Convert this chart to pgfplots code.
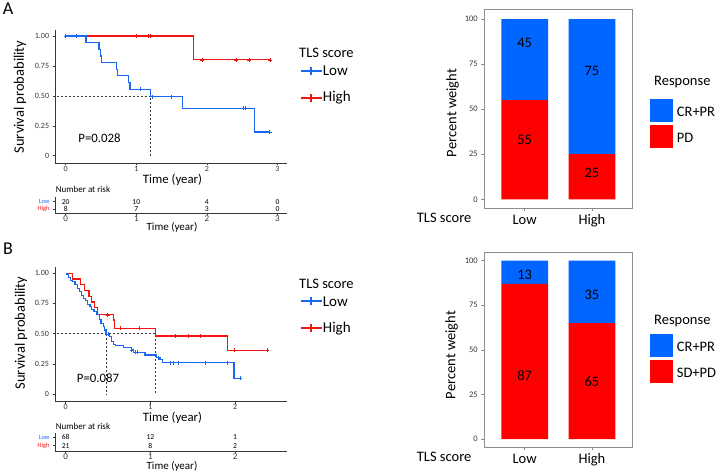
\documentclass[border=0pt]{standalone}
\usepackage{pgfplots}
\pgfplotsset{compat=1.18}
\usepackage{fontspec}
\setmainfont{Carlito}
\definecolor{kmblue}{RGB}{25,105,240}
\definecolor{kmred}{RGB}{245,20,20}
\definecolor{barblue}{RGB}{0,102,255}
\definecolor{barred}{RGB}{255,0,0}
\definecolor{axgray}{RGB}{55,55,55}
\definecolor{framegray}{RGB}{140,140,140}
\newcommand{\fs}[1]{\fontsize{#1}{#1}\selectfont}
\pgfplotsset{
  km/.style={
    scale only axis, anchor=south west,
    axis x line=bottom, axis y line=left,
    axis line style={-, axgray, line width=0.6pt},
    tick align=outside, major tick length=2.5pt,
    tick style={axgray, line width=0.5pt},
    ticklabel style={font=\fs{8}, text=axgray},
    xticklabel style={inner sep=0.6pt},
    /pgf/number format/assume math mode=true,
  },
  risk/.style={
    scale only axis, anchor=south west,
    axis x line=bottom, axis y line=left,
    axis line style={-, axgray, line width=0.6pt},
    tick align=outside, major tick length=2pt,
    tick style={axgray, line width=0.5pt},
    xticklabel style={font=\fs{9}, text=axgray, inner sep=0.5pt},
    yticklabel style={font=\fs{6.4}},
    /pgf/number format/assume math mode=true,
  },
  barax/.style={
    scale only axis, anchor=south west, ybar stacked, bar width=46.7pt,
    xmin=-0.6, xmax=1.6, xtick={0,1}, xticklabels={Low,High},
    ytick={0,25,50,75,100},
    axis line style={framegray, line width=0.8pt},
    tick align=outside, major tick length=3pt,
    tick style={framegray, line width=0.6pt},
    xtick pos=bottom, ytick pos=left,
    xticklabel style={font=\fs{14.5}},
    yticklabel style={font=\fs{8.5}, text=axgray},
    /pgf/number format/assume math mode=true,
  },
  barlab/.style={
    scale only axis, anchor=south west, hide axis,
    xmin=-0.6, xmax=1.6,
  },
  cens/.style={only marks, mark=+, mark size=2pt, mark options={line width=0.7pt}},
  med/.style={axgray, dash pattern=on 2pt off 2pt, line width=0.6pt},
  riskn/.style={draw=none, mark=none, nodes near coords, point meta=explicit symbolic,
    nodes near coords style={anchor=center, font=\fs{7.6}, text=black}},
  vlab/.style={draw=none, mark=none, nodes near coords, point meta=explicit symbolic,
    nodes near coords style={anchor=center, font=\fs{14.5}, text=black}},
}
\begin{document}
\begin{tikzpicture}[x=1pt,y=1pt]
\path[use as bounding box] (0,0) rectangle (722,472);

% ---------------- Panel A: KM ----------------
\begin{axis}[km, at={(55.1pt,309.1pt)}, width=231.6pt, height=132.9pt,
  xmin=-0.15, xmax=3.13, ymin=-0.06, ymax=1.05,
  xtick={0,1,2,3}, ytick={0,0.25,0.5,0.75,1}, yticklabels={0,0.25,0.50,0.75,1.00}]
\addplot[med] coordinates {(-0.12,0.5) (1.204,0.5) (1.204,0)};
\addplot[const plot, kmred, line width=1.1pt] coordinates {(0,1) (1.81,0.8) (2.9,0.8)};
\addplot[cens, kmred] coordinates {(0.996,1) (1.17,1) (1.20,1) (1.93,0.8) (2.41,0.8) (2.6,0.8) (2.9,0.8)};
\addplot[const plot, kmblue, line width=1.1pt] coordinates {(0,1) (0.288,0.944) (0.472,0.889) (0.495,0.833) (0.51,0.778) (0.717,0.722) (0.736,0.667) (0.887,0.611) (0.911,0.556) (1.204,0.494) (1.657,0.395) (2.68,0.198) (2.89,0.198)};
\addplot[cens, kmblue] coordinates {(0,1) (0.155,1) (1.06,0.556) (1.23,0.494) (1.5,0.494) (2.515,0.395) (2.54,0.395) (2.89,0.198)};
\end{axis}

% risk table A
\begin{axis}[risk, at={(55.1pt,258.7pt)}, width=231.6pt, height=16.2pt,
  xmin=-0.15, xmax=3.13, ymin=0.47, ymax=2.6, xtick={0,1,2,3},
  ytick={1,2}, yticklabels={\textcolor{kmred}{High},\textcolor{kmblue}{Low}}]
\addplot[riskn] coordinates {(0,2) [20] (1,2) [10] (2,2) [4] (3,2) [0] (0,1) [8] (1,1) [7] (2,1) [3] (3,1) [0]};
\end{axis}

% ---------------- Panel B: KM ----------------
\begin{axis}[km, at={(55.0pt,70.8pt)}, width=231.7pt, height=134.0pt,
  xmin=-0.126, xmax=2.61, ymin=-0.06, ymax=1.05,
  xtick={0,1,2}, ytick={0,0.25,0.5,0.75,1}, yticklabels={0,0.25,0.50,0.75,1.00}]
\addplot[med] coordinates {(-0.1,0.5) (1.063,0.5) (1.063,0)};
\addplot[med] coordinates {(0.476,0.5) (0.476,0)};
\addplot[const plot, kmred, line width=1.1pt] coordinates {(0,1) (0.082,0.952) (0.18,0.905) (0.227,0.857) (0.275,0.810) (0.306,0.762) (0.345,0.714) (0.373,0.655) (0.561,0.613) (0.58,0.544) (1.063,0.48) (1.914,0.362) (2.376,0.362)};
\addplot[cens, kmred] coordinates {(0.494,0.655) (0.64,0.544) (0.875,0.544) (1.294,0.48) (1.451,0.48) (1.592,0.48) (1.992,0.362) (2.376,0.362)};
\addplot[const plot, kmblue, line width=1.1pt] coordinates {(0,1) (0.012,0.986) (0.031,0.964) (0.059,0.942) (0.083,0.931) (0.110,0.909) (0.142,0.876) (0.161,0.848) (0.189,0.815) (0.209,0.793) (0.236,0.771) (0.260,0.743) (0.287,0.724) (0.307,0.702) (0.335,0.682) (0.366,0.655) (0.398,0.619) (0.417,0.586) (0.445,0.558) (0.460,0.530) (0.476,0.495) (0.516,0.478) (0.543,0.434) (0.563,0.412) (0.587,0.401) (0.681,0.384) (0.780,0.365) (0.799,0.345) (0.937,0.323) (1.075,0.301) (1.114,0.282) (1.146,0.260) (1.988,0.130) (2.06,0.130)};
\addplot[cens, kmblue] coordinates {(0.50,0.495) (0.78,0.365) (0.82,0.345) (0.85,0.345) (1.09,0.301) (1.235,0.26) (1.27,0.26) (1.33,0.26) (1.65,0.26) (1.91,0.26) (2.06,0.13)};
\end{axis}

% risk table B
\begin{axis}[risk, at={(55.0pt,21pt)}, width=231.7pt, height=17.9pt,
  xmin=-0.126, xmax=2.61, ymin=0.37, ymax=2.5, xtick={0,1,2},
  ytick={1,2}, yticklabels={\textcolor{kmred}{High},\textcolor{kmblue}{Low}}]
\addplot[riskn] coordinates {(0,2) [68] (1,2) [12] (2,2) [1] (0,1) [21] (1,1) [8] (2,1) [2]};
\end{axis}

% ---------------- Bars A ----------------
\begin{axis}[barax, at={(484.3pt,263.7pt)}, width=148pt, height=199pt, ymin=-5, ymax=105.4]
\addplot[fill=barred, draw=none] coordinates {(0,55) (1,25)};
\addplot[fill=barblue, draw=none] coordinates {(0,45) (1,75)};
\end{axis}
\begin{axis}[barlab, at={(484.3pt,263.7pt)}, width=148pt, height=199pt, ymin=-5, ymax=105.4]
\addplot[vlab] coordinates {(0,87) [45] (0,32.9) [55] (1,71.2) [75] (1,14.8) [25]};
\end{axis}

% ---------------- Bars B ----------------
\begin{axis}[barax, at={(484.3pt,24.7pt)}, width=148pt, height=194.6pt, ymin=-4.65, ymax=104.5]
\addplot[fill=barred, draw=none] coordinates {(0,87) (1,65)};
\addplot[fill=barblue, draw=none] coordinates {(0,13) (1,35)};
\end{axis}
\begin{axis}[barlab, at={(484.3pt,24.7pt)}, width=148pt, height=194.6pt, ymin=-4.65, ymax=104.5]
\addplot[vlab] coordinates {(0,92) [13] (0,35.5) [87] (1,80.8) [35] (1,32.1) [65]};
\end{axis}

% ---------------- Texts ----------------
\node[font=\fs{18}] at (8,463) {A};
\node[font=\fs{18}] at (8,223) {B};
\node[font=\fs{14.5}, rotate=90] at (20,375) {Survival probability};
\node[font=\fs{14.5}, rotate=90] at (21,139) {Survival probability};
\node[font=\fs{12.8}] at (172.5,292) {Time (year)};
\node[font=\fs{12.8}] at (172.5,53.7) {Time (year)};
\node[font=\fs{12.8}] at (99.5,334) {P=0.028};
\node[font=\fs{12.8}] at (98,94.3) {P=0.087};
\node[font=\fs{9}, anchor=west, inner sep=0pt] at (55.7,283) {Number at risk};
\node[font=\fs{9}, anchor=west, inner sep=0pt] at (55.7,46) {Number at risk};
\node[font=\fs{11}, inner sep=0.5pt] at (172,244.3) {Time (year)};
\node[font=\fs{11}, inner sep=0.5pt] at (172,5.3) {Time (year)};

% KM legends
\foreach \yy in {0,-230.7}{
  \node[font=\fs{14.5}, anchor=west, inner sep=0pt] at (299,419.3+\yy) {TLS score};
  \draw[kmblue, line width=2pt] (300.7,401.3+\yy) -- (321.7,401.3+\yy);
  \draw[kmblue, line width=2pt] (311.2,397.3+\yy) -- (311.2,405.3+\yy);
  \node[font=\fs{15}, anchor=west, inner sep=0pt] at (322.7,401.3+\yy) {Low};
  \draw[kmred, line width=2pt] (300.7,374.3+\yy) -- (321.7,374.3+\yy);
  \draw[kmred, line width=2pt] (311.2,370.3+\yy) -- (311.2,378.3+\yy);
  \node[font=\fs{15}, anchor=west, inner sep=0pt] at (322.7,374.3+\yy) {High};
}

% bar texts
\node[font=\fs{14.5}, rotate=90] at (452.7,359) {Percent weight};
\node[font=\fs{14.5}, rotate=90] at (451.7,117) {Percent weight};
\node[font=\fs{14.5}, anchor=west, inner sep=0pt] at (416.7,253.7) {TLS score};
\node[font=\fs{14.5}, anchor=west, inner sep=0pt] at (416.7,14.7) {TLS score};

% response legends
\node[font=\fs{14.5}, anchor=west, inner sep=0pt] at (654,390.3) {Response};
\fill[barblue] (650,349.7) rectangle (673.3,373);
\fill[barred] (650,324.3) rectangle (673.3,347);
\node[font=\fs{14.5}, anchor=west, inner sep=0pt] at (676.7,360.3) {CR+PR};
\node[font=\fs{14.5}, anchor=west, inner sep=0pt] at (676.7,334.3) {PD};

\node[font=\fs{14.5}, anchor=west, inner sep=0pt] at (654,151.3) {Response};
\fill[barblue] (650,114.7) rectangle (673.3,138);
\fill[barred] (650,88.7) rectangle (673.3,112);
\node[font=\fs{14.5}, anchor=west, inner sep=0pt] at (676.7,125.3) {CR+PR};
\node[font=\fs{14.5}, anchor=west, inner sep=0pt] at (676.7,98.7) {SD+PD};
\end{tikzpicture}
\end{document}
